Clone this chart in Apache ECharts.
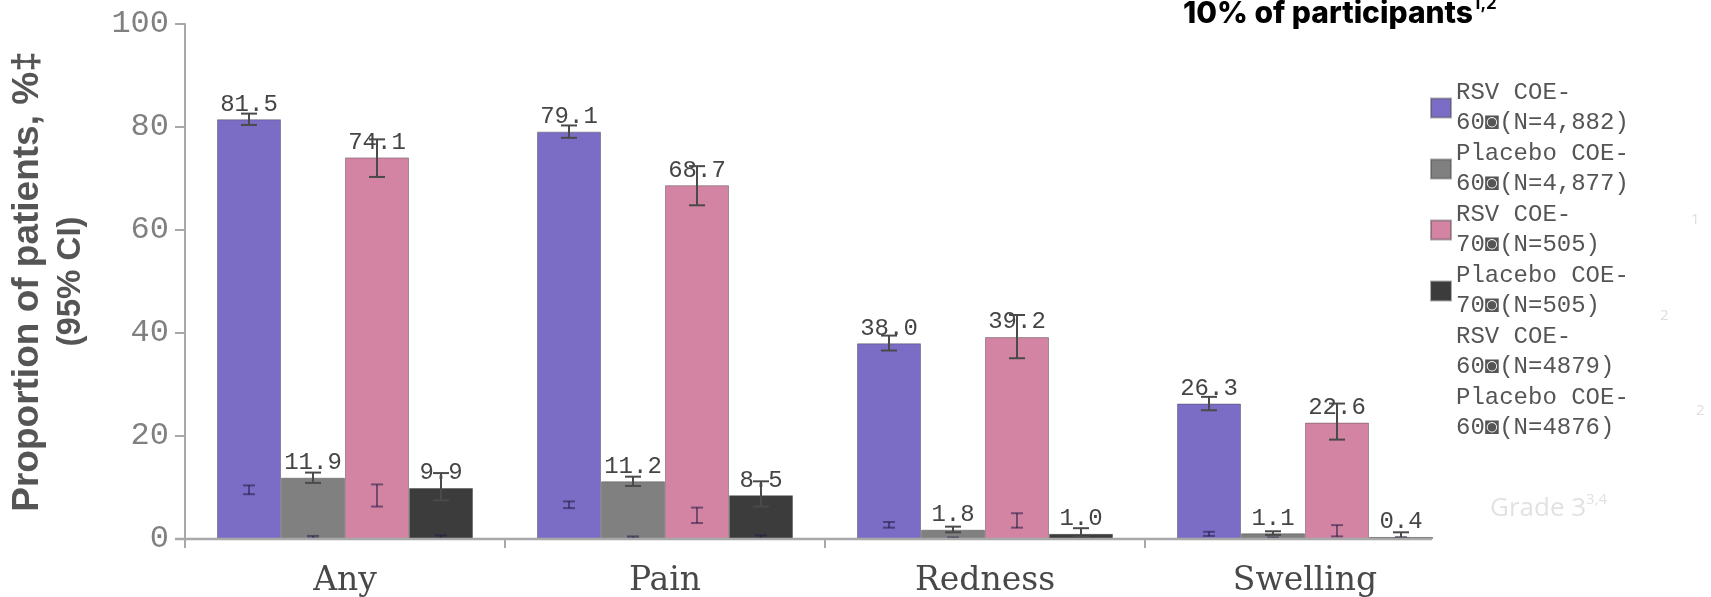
<!DOCTYPE html>
<html>
<head>
<meta charset="utf-8">
<title>Local reactions by severity</title>
<script src="https://cdn.jsdelivr.net/npm/echarts@6/dist/echarts.min.js"></script>
<style>
  html, body { margin: 0; padding: 0; background: #ffffff; }
  #chart { width: 1711px; height: 597px; }
</style>
</head>
<body>
<div id="chart"></div>
<script>
// Solicited local reactions, proportion of participants (%), with 95% CI
const categories = ['Any', 'Pain', 'Redness', 'Swelling'];

const legendNames = [
  'RSV COE-\n60◙(N=4,882)',
  'Placebo COE-\n60◙(N=4,877)',
  'RSV COE-\n70◙(N=505)',
  'Placebo COE-\n70◙(N=505)',
  'RSV COE-\n60◙(N=4879)',
  'Placebo COE-\n60◙(N=4876)'
];

// Any grade
const rsv60 = [81.5, 79.1, 38.0, 26.3];
const placebo60 = [11.9, 11.2, 1.8, 1.1];
const rsv70 = [74.1, 68.7, 39.2, 22.6];
const placebo70 = [9.9, 8.5, 1.0, 0.4];

// 95% CI, any grade
const rsv60Low = [80.4, 77.9, 36.6, 25.0];
const rsv60High = [82.6, 80.3, 39.5, 27.6];
const placebo60Low = [10.9, 10.3, 1.3, 0.8];
const placebo60High = [12.9, 12.1, 2.4, 1.5];
const rsv70Low = [70.3, 64.8, 35.1, 19.3];
const rsv70High = [77.6, 72.4, 43.5, 26.3];
const placebo70Low = [7.5, 6.3, 0.5, 0.1];
const placebo70High = [12.8, 11.2, 2.1, 1.3];

// Grade 3, 95% CI
const rsv60G3Low = [8.7, 6.0, 2.2, 0.6];
const rsv60G3High = [10.4, 7.3, 3.3, 1.4];
const rsv70G3Low = [6.3, 3.1, 2.2, 0.5];
const rsv70G3High = [10.6, 6.1, 5.0, 2.7];
const placebo60G3Low = [0.1, 0.1, 0.0, 0.0];
const placebo60G3High = [0.6, 0.5, 0.3, 0.3];
const placebo70G3Low = [0.0, 0.0, 0.0, 0.0];
const placebo70G3High = [0.7, 0.7, 0.5, 0.4];

const yTicks = [0, 20, 40, 60, 80, 100];

const colors = ['#7b6cc5', '#808080', '#d384a3', '#3c3c3c'];
const monoFont = '"Liberation Mono", "DejaVu Sans Mono", monospace';
const axisGrey = '#a8a8a8';

// bars fill 80% of each category band, four side by side
const slotOffset = [-0.3, -0.1, 0.1, 0.3];

function ciRows(lows, highs, slot) {
  return categories.map((c, i) => [i, lows[i], highs[i], slot]);
}

function makeWhiskerRenderer(capHalf, stroke, width) {
  return function (params, api) {
    const ci = api.value(0);
    const lo = api.value(1);
    const hi = api.value(2);
    const slot = api.value(3);
    const band = api.size([1, 0])[0];
    const x = api.coord([ci, 0])[0] + slotOffset[slot] * band;
    const yLo = api.coord([ci, lo])[1];
    const yHi = api.coord([ci, hi])[1];
    const style = { stroke: stroke, lineWidth: width };
    return {
      type: 'group',
      children: [
        { type: 'line', shape: { x1: x, y1: yLo, x2: x, y2: yHi }, style: style },
        { type: 'line', shape: { x1: x - capHalf, y1: yHi, x2: x + capHalf, y2: yHi }, style: style },
        { type: 'line', shape: { x1: x - capHalf, y1: yLo, x2: x + capHalf, y2: yLo }, style: style }
      ]
    };
  };
}

function barSeries(name, data, color) {
  return {
    name: name,
    type: 'bar',
    data: data,
    barGap: '0%',
    barCategoryGap: '20%',
    itemStyle: { color: color, borderColor: 'rgba(70,70,70,0.45)', borderWidth: 1 },
    label: {
      show: true,
      position: 'top',
      distance: 3,
      formatter: p => p.value.toFixed(1),
      fontFamily: monoFont,
      fontSize: 24,
      color: '#454545'
    },
    z: 2
  };
}

const mainWhisker = makeWhiskerRenderer(8, '#4a4a4a', 2);
const gradeWhisker = makeWhiskerRenderer(6, 'rgba(35,25,70,0.55)', 2);

const chart = echarts.init(document.getElementById('chart'), null, { renderer: 'canvas' });

const sideFont = '"Open Sans", sans-serif';

const option = {
  backgroundColor: '#ffffff',
  animation: false,
  title: [
    {
      text: '{m|10% of participants}{s|1,2}',
      left: 1183,
      top: -5,
      padding: 0,
      textStyle: {
        rich: {
          m: { fontFamily: 'Inter, "Open Sans", sans-serif', fontWeight: 800, fontSize: 30, lineHeight: 38, color: '#000000' },
          s: { fontFamily: 'Inter, "Open Sans", sans-serif', fontWeight: 700, fontSize: 17, lineHeight: 28, verticalAlign: 'top', color: '#000000' }
        }
      }
    },
    {
      text: '{m|Grade 3}{s|3,4}',
      left: 1490,
      top: 492,
      padding: 0,
      textStyle: {
        rich: {
          m: { fontFamily: sideFont, fontWeight: 400, fontSize: 26, lineHeight: 34, color: '#e2e2e2' },
          s: { fontFamily: sideFont, fontWeight: 400, fontSize: 15, lineHeight: 24, verticalAlign: 'top', color: '#e2e2e2' }
        }
      }
    },
    { text: '1', left: 1691, top: 212, padding: 0, textStyle: { fontFamily: sideFont, fontWeight: 400, fontSize: 15, color: '#dddddd' } },
    { text: '2', left: 1660, top: 308, padding: 0, textStyle: { fontFamily: sideFont, fontWeight: 400, fontSize: 15, color: '#dddddd' } },
    { text: '2', left: 1696, top: 403, padding: 0, textStyle: { fontFamily: sideFont, fontWeight: 400, fontSize: 15, color: '#dddddd' } }
  ],
  legend: {
    orient: 'vertical',
    left: 1430,
    top: 78,
    padding: 0,
    itemGap: 1,
    itemWidth: 20,
    itemHeight: 19,
    selectedMode: false,
    icon: 'rect',
    textStyle: { fontFamily: monoFont, fontSize: 24, lineHeight: 30, color: '#555555' },
    data: [
      { name: legendNames[0] },
      { name: legendNames[1] },
      { name: legendNames[2] },
      { name: legendNames[3] },
      { name: legendNames[4], itemStyle: { opacity: 0 } },
      { name: legendNames[5], itemStyle: { opacity: 0 } }
    ]
  },
  grid: { left: 185, right: 246, top: 24, bottom: 58, containLabel: false, outerBoundsMode: 'none' },
  xAxis: {
    type: 'category',
    data: categories,
    axisLine: { show: false },
    axisTick: { show: false },
    axisLabel: {
      margin: 26,
      fontFamily: '"DejaVu Serif", serif',
      fontSize: 33,
      color: '#484848'
    }
  },
  yAxis: {
    type: 'value',
    min: yTicks[0],
    max: yTicks[yTicks.length - 1],
    interval: yTicks[1] - yTicks[0],
    axisLine: { show: true, lineStyle: { color: axisGrey, width: 2 } },
    axisTick: { show: true, length: 10, lineStyle: { color: axisGrey, width: 2 } },
    splitLine: { show: false },
    axisLabel: {
      margin: 16,
      fontFamily: monoFont,
      fontSize: 32,
      color: '#808080'
    },
    name: '{a|Proportion of patients, %‡}\n{b|(95% CI)}',
    nameLocation: 'middle',
    nameGap: 93,
    nameTextStyle: {
      rich: {
        a: { fontFamily: '"Liberation Sans", Arial, sans-serif', fontWeight: 'bold', fontSize: 37, lineHeight: 44, color: '#555555' },
        b: { fontFamily: '"Liberation Sans", Arial, sans-serif', fontWeight: 'bold', fontSize: 33, lineHeight: 42, color: '#555555' }
      }
    }
  },
  series: [
    barSeries(legendNames[0], rsv60, colors[0]),
    barSeries(legendNames[1], placebo60, colors[1]),
    barSeries(legendNames[2], rsv70, colors[2]),
    barSeries(legendNames[3], placebo70, colors[3]),
    {
      name: legendNames[4],
      type: 'custom',
      renderItem: gradeWhisker,
      encode: { x: 0, y: [1, 2] },
      itemStyle: { color: 'rgba(0,0,0,0)' },
      data: ciRows(rsv60G3Low, rsv60G3High, 0).concat(ciRows(rsv70G3Low, rsv70G3High, 2)),
      z: 4
    },
    {
      name: legendNames[5],
      type: 'custom',
      renderItem: gradeWhisker,
      encode: { x: 0, y: [1, 2] },
      itemStyle: { color: 'rgba(0,0,0,0)' },
      data: ciRows(placebo60G3Low, placebo60G3High, 1).concat(ciRows(placebo70G3Low, placebo70G3High, 3)),
      z: 4
    },
    {
      name: 'CI any grade',
      type: 'custom',
      renderItem: mainWhisker,
      encode: { x: 0, y: [1, 2] },
      data: ciRows(rsv60Low, rsv60High, 0)
        .concat(ciRows(placebo60Low, placebo60High, 1))
        .concat(ciRows(rsv70Low, rsv70High, 2))
        .concat(ciRows(placebo70Low, placebo70High, 3)),
      z: 5
    }
  ]
};

chart.setOption(option);

// category axis baseline and band-boundary ticks, stopping short of the legend column
const baseY = chart.convertToPixel({ yAxisIndex: 0 }, 0);
const bandWidth = chart.convertToPixel({ xAxisIndex: 0 }, 1) - chart.convertToPixel({ xAxisIndex: 0 }, 0);
const axisMarks = [{
  type: 'line',
  shape: { x1: 175, y1: baseY, x2: 1432, y2: baseY },
  style: { stroke: axisGrey, lineWidth: 2.5 },
  z: 10
}];
categories.forEach((c, i) => {
  const xb = chart.convertToPixel({ xAxisIndex: 0 }, i) - bandWidth / 2;
  axisMarks.push({
    type: 'line',
    shape: { x1: xb, y1: baseY, x2: xb, y2: baseY + 9 },
    style: { stroke: axisGrey, lineWidth: 2 },
    z: 10
  });
});
chart.setOption({ graphic: axisMarks });
</script>
</body>
</html>
